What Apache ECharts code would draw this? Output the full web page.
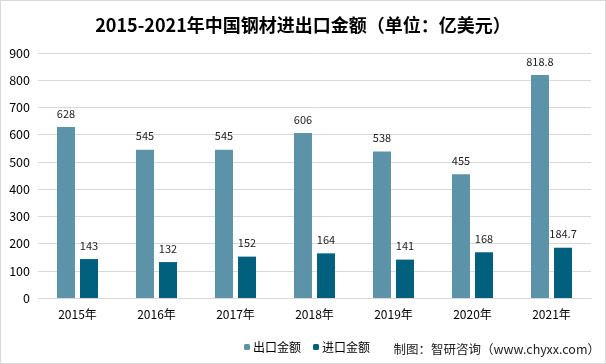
<!DOCTYPE html>
<html><head><meta charset="utf-8">
<script src="https://cdn.jsdelivr.net/npm/echarts@6/dist/echarts.min.js"></script>
<style>html,body{margin:0;padding:0;background:#fff}#c{width:604px;height:362px;border:1px solid #d9d9d9}</style>
</head><body><div id="c"></div>
<script>
const categories = ['2015年','2016年','2017年','2018年','2019年','2020年','2021年'];
const exportValues = [628, 545, 545, 606, 538, 455, 818.8];
const importValues = [143, 132, 152, 164, 141, 168, 184.7];
const yTicks = [0, 100, 200, 300, 400, 500, 600, 700, 800, 900];
const chart = echarts.init(document.getElementById('c'));
const font = 'Microsoft YaHei, "Noto Sans CJK SC", sans-serif';
chart.setOption({
  animation: false,
  title: {
    text: '2015-2021年中国钢材进出口金额（单位：亿美元）',
    left: 'center', top: 10,
    textStyle: {fontSize: 18, fontWeight: 'bold', color: '#000', fontFamily: font}
  },
  legend: {
    data: ['出口金额', '进口金额'],
    left: 238, top: 335,
    itemWidth: 6, itemHeight: 6, itemGap: 12,
    textStyle: {fontSize: 12, color: '#000', fontFamily: font, padding: [0,0,0,-2]}
  },
  graphic: [{
    type: 'text', right: 5, top: 342,
    style: {text: '制图：智研咨询（www.chyxx.com）', fontSize: 12.5, fill: '#222', fontFamily: font}
  }],
  grid: {left: 37, right: 14, top: 52, bottom: 65},
  xAxis: {
    type: 'category', data: categories,
    axisLine: {lineStyle: {color: '#d9d9d9'}},
    axisTick: {show: false},
    axisLabel: {color: '#000', fontSize: 12, fontFamily: font, margin: 10}
  },
  yAxis: {
    type: 'value', min: yTicks[0], max: yTicks[yTicks.length-1], interval: 100,
    axisLine: {show: false}, axisTick: {show: false},
    splitLine: {lineStyle: {color: '#d9d9d9'}},
    axisLabel: {color: '#000', fontSize: 12.5, fontFamily: font, margin: 8}
  },
  series: [
    {name: '出口金额', type: 'bar', data: exportValues, barWidth: 18, barGap: '28%',
     itemStyle: {color: '#5d93a8'},
     label: {show: true, position: 'top', distance: 8, color: '#222', fontSize: 11, fontFamily: font}},
    {name: '进口金额', type: 'bar', data: importValues, barWidth: 18,
     itemStyle: {color: '#02607f'},
     label: {show: true, position: 'top', distance: 8, color: '#222', fontSize: 11, fontFamily: font}}
  ]
});
</script></body></html>
